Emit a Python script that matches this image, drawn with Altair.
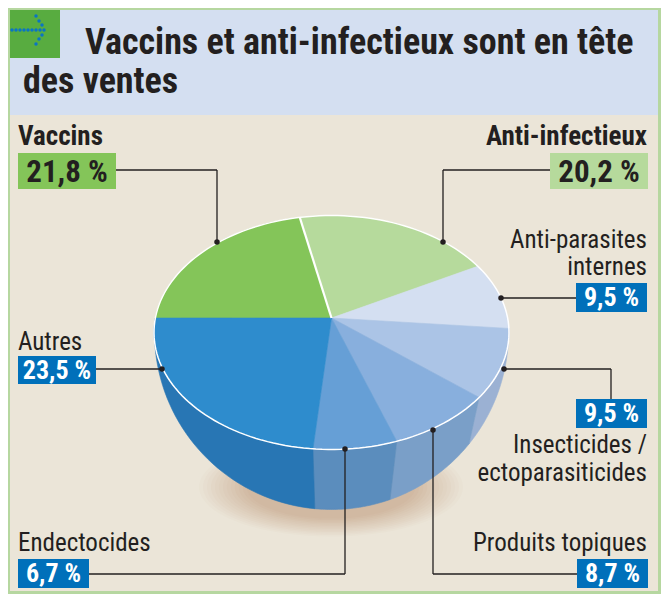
import numpy as np
import pandas as pd
import altair as alt

# ---- values ----
categories = ["Vaccins", "Anti-infectieux", "Anti-parasites internes", "Insecticides / ectoparasiticides",
              "Produits topiques", "Endectocides", "Autres"]
shares = ["21,8 %", "20,2 %", "9,5 %", "9,5 %", "8,7 %", "6,7 %", "23,5 %"]
# where each slice ends on the drawn rim (degrees clockwise from the top of the ellipse)
rim_start = -82.9
rim_ends = [-10.3, 55.5, 88.0, 123.7, 158.4, 186.0, 277.1]
# where the side wedges reach the bowl outline (degrees from straight down)
bowl_ends = {"Insecticides / ectoparasiticides": (90.0, 51.0), "Produits topiques": (51.0, 19.3),
             "Endectocides": (19.3, -5.4), "Autres": (-5.4, -90.0)}
top_colors = ["#84c559", "#b6da9c", "#d4dff1", "#abc4e6", "#88afdd", "#669fd6", "#2e8ccd"]
side_colors = {"Insecticides / ectoparasiticides": "#9bb1d3", "Produits topiques": "#7a9fc8",
               "Endectocides": "#5b8dbd", "Autres": "#2876b4"}

FONT = "Roboto Condensed"
INK = "#231f20"
W, H, M = 653, 586, 8
sx = alt.Scale(domain=[M, M + W], nice=False, zero=False)
sy = alt.Scale(domain=[M + H, M], nice=False, zero=False)
CX, CY, RX, RY, AX, AY, BOWL = 331.5, 332.5, 177.5, 117.0, 331.5, 318.0, 177.0


def rim(a, b, n=40):
    t = np.radians(np.linspace(a, b, n))
    return CX + RX * np.sin(t), CY - RY * np.cos(t)


def poly(xs, ys, color, stroke=None, sw=0.6):
    df = pd.DataFrame({"x": xs, "y": ys, "i": np.arange(len(xs))})
    return alt.Chart(df).mark_line(fill=color, stroke=stroke or color, strokeWidth=sw, interpolate="linear").encode(
        x=alt.X("x:Q", scale=sx, axis=None), y=alt.Y("y:Q", scale=sy, axis=None), order="i:Q")


ONE = alt.Data(values=[{}])


def rect(x1, y1, x2, y2, color):
    return alt.Chart(ONE).mark_rect(color=color, stroke=None).encode(
        x=alt.value(x1 - M), x2=alt.value(x2 - M), y=alt.value(y1 - M), y2=alt.value(y2 - M))


def seg(x1, y1, x2, y2, color=INK, sw=1.3):
    return alt.Chart(ONE).mark_rule(color=color, strokeWidth=sw).encode(
        x=alt.value(x1 - M), x2=alt.value(x2 - M), y=alt.value(y1 - M), y2=alt.value(y2 - M))


def dot(x, y, color=INK, size=30):
    return alt.Chart(ONE).mark_point(filled=True, color=color, size=size, opacity=1).encode(
        x=alt.value(x - M), y=alt.value(y - M))


def text(s, x, y, size, bold=False, align="left", color=INK):
    return alt.Chart(ONE).mark_text(text=s, font=FONT, fontSize=size, fontWeight="bold" if bold else "normal",
                                    align=align, baseline="alphabetic", color=color).encode(
        x=alt.value(x - M), y=alt.value(y - M))


layers = [
    rect(10, 10, 658, 115, "#d4dff1"),
    rect(10, 115, 658, 591, "#ebe5d8"),
    rect(10, 10, 60, 58, "#58ac40"),
]
# arrow icon
for x in [12, 16, 20, 24, 28, 32, 36, 40]:
    layers.append(dot(x, 30, "#0a74c4", 12))
for x, y in [(36, 16), (39, 21), (42, 25), (44, 30), (42, 35), (39, 39), (36, 44)]:
    layers.append(dot(x, y, "#0a74c4", 12))

# soft shadow: nested ellipses fading from the panel colour to the shadow colour
phi = np.radians(np.linspace(0, 360, 72))
pale, deep = np.array([0xeb, 0xe5, 0xd8]), np.array([0xd1, 0xb9, 0xa2])
for k, f in enumerate(np.linspace(0, 1, 14)):
    s = 1 - 0.38 * f
    c = pale + (deep - pale) * f
    hexc = "#%02x%02x%02x" % tuple(int(round(v)) for v in c)
    layers.append(poly(331 + 136 * s * np.cos(phi), 487 + 51 * s * np.sin(phi), hexc, sw=0))

# bowl sides
ends = dict(zip(categories, rim_ends))
starts = dict(zip(categories, [rim_start] + rim_ends[:-1]))
for cat, (p1, p2) in bowl_ends.items():
    rx, ry = rim(starts[cat], ends[cat])
    p = np.radians(np.linspace(p2, p1, 40))
    bx, by = CX + BOWL * np.sin(p), CY + BOWL * np.cos(p)
    layers.append(poly(np.r_[rx, bx, rx[0]], np.r_[ry, by, ry[0]], side_colors[cat]))

# top slices
for cat, col in zip(categories, top_colors):
    rx, ry = rim(starts[cat], ends[cat])
    layers.append(poly(np.r_[AX, rx, AX], np.r_[AY, ry, AY], col))

# white rim and separator
ex, ey = rim(0, 360, 180)
rim_df = pd.DataFrame({"x": ex, "y": ey, "i": np.arange(180)})
layers.append(alt.Chart(rim_df).mark_line(color="white", strokeWidth=1.5).encode(
    x=alt.X("x:Q", scale=sx, axis=None), y=alt.Y("y:Q", scale=sy, axis=None), order="i:Q"))
sepx, sepy = rim(rim_ends[0], rim_ends[0], 1)
layers.append(seg(AX, AY, sepx[0], sepy[0], "white", 2.2))

# title
layers += [text("Vaccins et anti-infectieux sont en tête", 85, 54, 36, True),
           text("des ventes", 23, 93, 36, True)]

# value boxes and labels
layers += [
    rect(18, 153, 116, 189, "#84c559"), rect(550, 153, 648, 189, "#b6da9c"),
    rect(576, 283, 647, 312, "#0070ba"), rect(576, 399, 647, 428, "#0070ba"),
    rect(18, 356, 96, 384, "#0070ba"), rect(18, 559, 89, 588, "#0070ba"), rect(577, 559, 648, 588, "#0070ba"),
    seg(116, 170, 217, 170), seg(217, 170, 217, 242),
    seg(550, 170, 443, 170), seg(443, 170, 443, 242),
    seg(576, 298, 501, 298),
    seg(504, 369, 611, 369), seg(611, 369, 611, 399),
    seg(96, 369, 162, 369),
    seg(89, 574, 345, 574), seg(345, 574, 345, 449),
    seg(577, 574, 433, 574), seg(433, 574, 433, 430),
    dot(217, 242), dot(443, 242), dot(501, 298), dot(504, 369), dot(162, 369), dot(345, 449), dot(433, 430),
    text("Vaccins", 18, 145, 27, True),
    text("Anti-infectieux", 647, 145, 27, True, "right"),
    text(shares[0], 67, 182, 31, True, "center"),
    text(shares[1], 599, 182, 31, True, "center"),
    text("Anti-parasites", 647, 248, 25, False, "right"),
    text("internes", 647, 275, 25, False, "right"),
    text(shares[2], 611.5, 306, 26, True, "center", "white"),
    text(shares[3], 611.5, 422, 26, True, "center", "white"),
    text("Insecticides /", 647, 453, 25, False, "right"),
    text("ectoparasiticides", 647, 481, 25, False, "right"),
    text("Autres", 18, 350, 25),
    text(shares[6], 57, 379, 26, True, "center", "white"),
    text("Endectocides", 18, 551, 25),
    text(shares[5], 53.5, 582, 26, True, "center", "white"),
    text("Produits topiques", 647, 551, 25, False, "right"),
    text(shares[4], 612.5, 582, 26, True, "center", "white"),
]

chart = alt.layer(*layers).properties(width=W, height=H, padding=0, background="#b6d7a0",
                                      autosize=alt.AutoSizeParams(type="none")).configure_view(stroke=None)
chart.save("out.html", embed_options={"renderer": "svg", "actions": False})
